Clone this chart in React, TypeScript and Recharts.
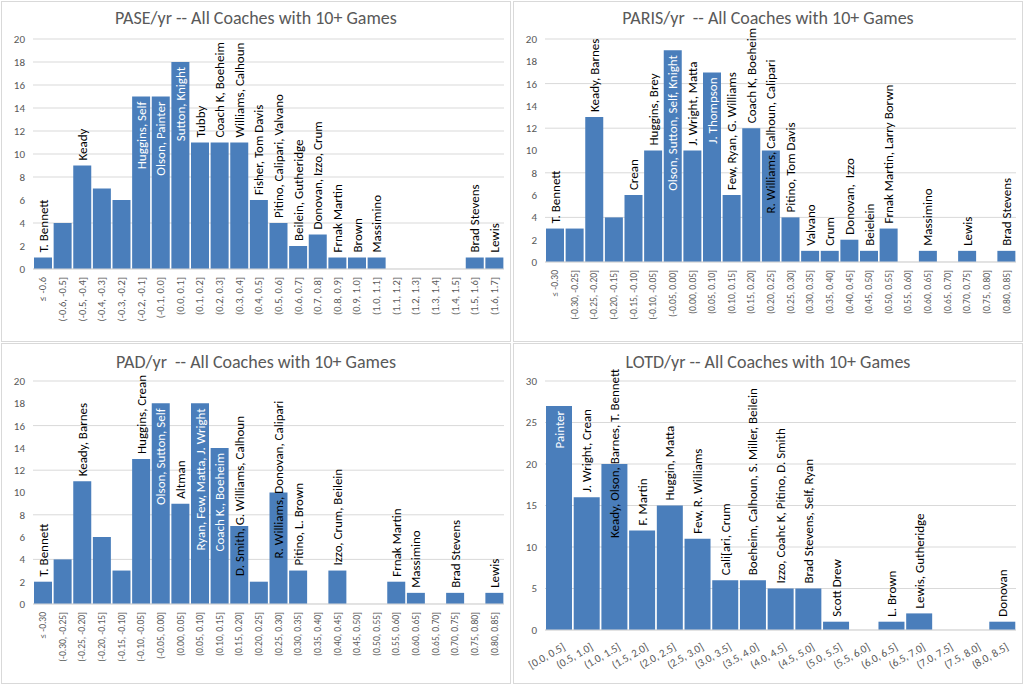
import React from 'react'
import { BarChart, Bar, XAxis, YAxis, CartesianGrid, LabelList } from 'recharts'

// ---- PASE/yr ----
const paseBins = [
  '≤ -0.6', '(-0.6, -0.5]', '(-0.5, -0.4]', '(-0.4, -0.3]', '(-0.3, -0.2]', '(-0.2, -0.1]',
  '(-0.1, 0.0]', '(0.0, 0.1]', '(0.1, 0.2]', '(0.2, 0.3]', '(0.3, 0.4]', '(0.4, 0.5]',
  '(0.5, 0.6]', '(0.6, 0.7]', '(0.7, 0.8]', '(0.8, 0.9]', '(0.9, 1.0]', '(1.0, 1.1]',
  '(1.1, 1.2]', '(1.2, 1.3]', '(1.3, 1.4]', '(1.4, 1.5]', '(1.5, 1.6]', '(1.6, 1.7]',
]
const paseCounts = [1, 4, 9, 7, 6, 15, 15, 18, 11, 11, 11, 6, 4, 2, 3, 1, 1, 1, 0, 0, 0, 0, 1, 1]
const paseNames = [
  'T. Bennett', '', 'Keady', '', '', 'Huggins, Self', 'Olson, Painter', 'Sutton, Knight',
  'Tubby', 'Coach K, Boeheim', 'Williams, Calhoun', 'Fisher, Tom Davis', 'Pitino, Calipari, Valvano',
  'Beilein, Gutheridge', 'Donovan, Izzo, Crum', 'Frnak Martin', 'Brown', 'Massimino',
  '', '', '', '', 'Brad Stevens', 'Lewis',
]

// ---- PARIS/yr and PAD/yr share bins ----
const quarterBins = [
  '≤ -0.30', '(-0.30, -0.25]', '(-0.25, -0.20]', '(-0.20, -0.15]', '(-0.15, -0.10]', '(-0.10, -0.05]',
  '(-0.05, 0.00]', '(0.00, 0.05]', '(0.05, 0.10]', '(0.10, 0.15]', '(0.15, 0.20]', '(0.20, 0.25]',
  '(0.25, 0.30]', '(0.30, 0.35]', '(0.35, 0.40]', '(0.40, 0.45]', '(0.45, 0.50]', '(0.50, 0.55]',
  '(0.55, 0.60]', '(0.60, 0.65]', '(0.65, 0.70]', '(0.70, 0.75]', '(0.75, 0.80]', '(0.80, 0.85]',
]
const parisCounts = [3, 3, 13, 4, 6, 10, 19, 10, 17, 6, 12, 10, 4, 1, 1, 2, 1, 3, 0, 1, 0, 1, 0, 1]
const parisNames = [
  'T. Bennett', '', 'Keady, Barnes', '', 'Crean', 'Huggins, Brey', 'Olson, Sutton, Self, Knight',
  'J. Wright, Matta', 'J. Thompson', 'Few, Ryan, G. Williams', 'Coach K, Boeheim',
  'R. Williams, Calhoun, Calipari', 'Pitino, Tom Davis', 'Valvano', 'Crum', 'Donovan,  Izzo',
  'Beielein', 'Frnak Martin, Larry Borwn', '', 'Massimino', '', 'Lewis', '', 'Brad Stevens',
]

const padCounts = [2, 4, 11, 6, 3, 13, 18, 9, 18, 14, 7, 2, 10, 3, 0, 3, 0, 0, 2, 1, 0, 1, 0, 1]
const padNames = [
  'T. Bennett', '', 'Keady, Barnes', '', '', 'Huggins, Crean', 'Olson, Sutton, Self', 'Altman',
  'Ryan, Few, Matta, J. Wright', 'Coach K., Boeheim', 'D. Smith, G. Williams, Calhoun', '',
  'R. Williams, Donovan, Calipari', 'Pitino, L. Brown', '', 'Izzo, Crum, Beilein', '', '',
  'Frnak Martin', 'Massimino', '', 'Brad Stevens', '', 'Lewis',
]

// ---- LOTD/yr ----
const lotdBins = [
  '[0.0, 0.5]', '(0.5, 1.0]', '(1.0, 1.5]', '(1.5, 2.0]', '(2.0, 2.5]', '(2.5, 3.0]', '(3.0, 3.5]',
  '(3.5, 4.0]', '(4.0, 4.5]', '(4.5, 5.0]', '(5.0, 5.5]', '(5.5, 6.0]', '(6.0, 6.5]', '(6.5, 7.0]',
  '(7.0, 7.5]', '(7.5, 8.0]', '(8.0, 8.5]',
]
const lotdCounts = [27, 16, 20, 12, 15, 11, 6, 6, 5, 5, 1, 0, 1, 2, 0, 0, 1]
const lotdNames = [
  'Painter', 'J. Wright, Crean', 'Keady, Olson, Barnes, T. Bennett', 'F. Martin', 'Huggin, Matta',
  'Few, R. Williams', 'Cali[ari, Crum', 'Boeheim, Calhoun, S. Miller, Beilein',
  'Izzo, Coahc K, Pitino, D. Smith', 'Brad Stevens, Self, Ryan', 'Scott Drew', '', 'L. Brown',
  'Lewis, Gutheridge', '', '', 'Donovan',
]

// label placement: 'in' = white text hanging inside the bar, number = dark text starting that far below bar top
type Place = Record<number, 'in' | number>
const pasePlace: Place = { 5: 'in', 6: 'in', 7: 'in' }
const parisPlace: Place = { 6: 'in', 8: 'in', 11: 63 }
const padPlace: Place = { 6: 'in', 8: 'in', 9: 'in', 10: 50, 12: 66 }
const lotdPlace: Place = { 0: 'in', 2: 74 }

const FONT = 'Carlito, Calibri, Lato, sans-serif'
const BAR = '#4a7ebb'
const GRID = '#d9d9d9'
const AXIS_TEXT = '#595959'

const vertTick = (size: number) => (p: any) => (
  <text x={p.x} y={p.y} transform={`rotate(-90, ${p.x}, ${p.y})`} textAnchor="end" dy="0.35em"
    fill={AXIS_TEXT} fontSize={size} fontFamily={FONT}>{p.payload.value}</text>
)

const slantTick = (size: number) => (p: any) => {
  const x = p.x + 7
  const y = p.y + 11
  return (
    <text x={x} y={y} transform={`rotate(-30, ${x}, ${y})`} textAnchor="end"
      fill={AXIS_TEXT} fontSize={size} fontFamily={FONT}>{p.payload.value}</text>
  )
}

const makeLabel = (place: Place) => (p: any) => {
  const t = p.value
  if (!t) return null
  const vb = p.viewBox ?? p
  const x = vb.x ?? p.x
  const y = vb.y ?? p.y
  const w = vb.width ?? p.width
  const cx = x + w / 2
  const kind = place[p.index]
  if (kind === 'in') {
    const ty = y + 5
    return (
      <text x={cx} y={ty} transform={`rotate(-90, ${cx}, ${ty})`} textAnchor="end" dy="0.35em"
        fill="#fff" fontSize={13} fontFamily={FONT} style={{ whiteSpace: 'pre' }}>{t}</text>
    )
  }
  const ty = typeof kind === 'number' ? y + kind : y - 5
  return (
    <text x={cx} y={ty} transform={`rotate(-90, ${cx}, ${ty})`} textAnchor="start" dy="0.35em"
      fill="#000" fontSize={13} fontFamily={FONT} style={{ whiteSpace: 'pre' }}>{t}</text>
  )
}

interface PanelProps {
  title: string
  bins: string[]
  counts: number[]
  names: string[]
  place: Place
  yMax: number
  yStep: number
  axisH: number
  tickSize: number
  slant?: boolean
  titleTop: number
  left: number
  top: number
}

function Panel({ title, bins, counts, names, place, yMax, yStep, axisH, tickSize, slant, titleTop, left, top }: PanelProps) {
  const data = bins.map((b, i) => ({ bin: b, n: counts[i], who: names[i] }))
  const ticks: number[] = []
  for (let v = 0; v <= yMax; v += yStep) ticks.push(v)
  return (
    <div style={{
      position: 'absolute', left, top, width: 510, height: 341, boxSizing: 'border-box',
      border: `1px solid ${GRID}`, background: '#fff',
    }}>
      <div style={{
        position: 'absolute', left: 0, top: titleTop, width: '100%', textAlign: 'center',
        fontSize: 18, lineHeight: '22px', color: AXIS_TEXT, fontFamily: FONT, whiteSpace: 'pre',
      }}>{title}</div>
      <BarChart width={508} height={339} data={data} barCategoryGap={1}
        margin={{ top: 37, right: 6, left: 0, bottom: 0 }}>
        <CartesianGrid vertical={false} stroke={GRID} />
        <XAxis dataKey="bin" interval={0} height={axisH} tickLine={false}
          axisLine={{ stroke: GRID }} tick={slant ? slantTick(tickSize) : vertTick(tickSize)} />
        <YAxis width={31} domain={[0, yMax]} ticks={ticks} axisLine={false} tickLine={false}
          tick={{ fill: AXIS_TEXT, fontSize: 11, fontFamily: FONT }} />
        <Bar dataKey="n" fill={BAR} isAnimationActive={false}>
          <LabelList dataKey="who" content={makeLabel(place)} />
        </Bar>
      </BarChart>
    </div>
  )
}

export default function App() {
  return (
    <div style={{ position: 'absolute', left: 0, top: 0, width: 1024, height: 685, background: '#fff' }}>
      <Panel title="PASE/yr -- All Coaches with 10+ Games" bins={paseBins} counts={paseCounts}
        names={paseNames} place={pasePlace} yMax={20} yStep={2} axisH={72} tickSize={10.5}
        titleTop={5} left={1} top={1} />
      <Panel title="PARIS/yr  -- All Coaches with 10+ Games" bins={quarterBins} counts={parisCounts}
        names={parisNames} place={parisPlace} yMax={20} yStep={2} axisH={79} tickSize={9.5}
        titleTop={5} left={513} top={1} />
      <Panel title="PAD/yr  -- All Coaches with 10+ Games" bins={quarterBins} counts={padCounts}
        names={padNames} place={padPlace} yMax={20} yStep={2} axisH={79} tickSize={9.5}
        titleTop={7} left={1} top={343} />
      <Panel title="LOTD/yr -- All Coaches with 10+ Games" bins={lotdBins} counts={lotdCounts}
        names={lotdNames} place={lotdPlace} yMax={30} yStep={5} axisH={53} tickSize={11} slant
        titleTop={7} left={513} top={343} />
    </div>
  )
}
